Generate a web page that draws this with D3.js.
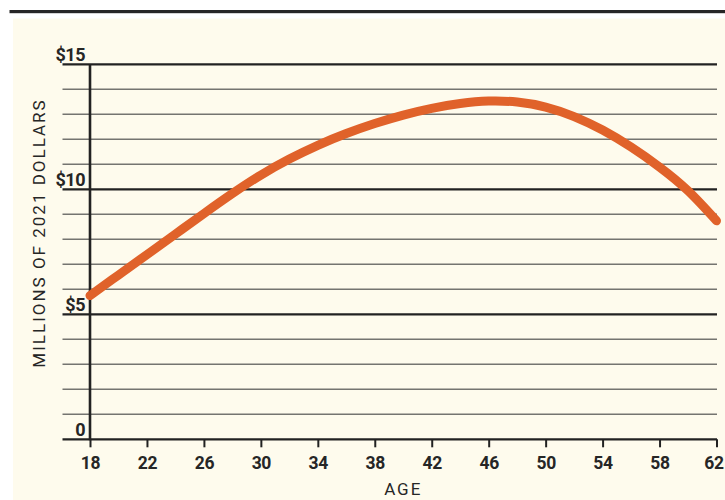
<!DOCTYPE html>
<html>
<head>
<meta charset="utf-8">
<script src="https://cdn.jsdelivr.net/npm/d3@7"></script>
<style>
  html, body { margin: 0; padding: 0; background: #ffffff; }
  svg { display: block; }
</style>
</head>
<body>
<svg id="chart" width="725" height="500"></svg>
<script>
// ---- Data ----
const ages = [18, 20, 22, 24, 26, 28, 30, 32, 34, 36, 38, 40, 42, 44, 46, 48, 50, 52, 54, 56, 58, 60, 62];
const earnings = [5.75, 6.57, 7.39, 8.21, 9.03, 9.83, 10.57, 11.21, 11.76, 12.23, 12.63, 12.97, 13.24, 13.43, 13.53, 13.49, 13.29, 12.91, 12.37, 11.69, 10.89, 9.94, 8.74];
const xTicks = [18, 22, 26, 30, 34, 38, 42, 46, 50, 54, 58, 62];
const yMajorTicks = [0, 5, 10, 15];
const yMajorLabels = ["0", "$5", "$10", "$15"];
const yMinorTicks = [1, 2, 3, 4, 6, 7, 8, 9, 11, 12, 13, 14];
const xTitle = "AGE";
const yTitle = "MILLIONS OF 2021 DOLLARS";

// ---- Layout ----
const svg = d3.select("#chart");
const mLeft = 90, mRight = 716.5, mTop = 64.3, mBottom = 439.3;
const gridLeft = 62.5, gridRight = 717;

svg.append("rect").attr("x", 13).attr("y", 18.5).attr("width", 712).attr("height", 482).attr("fill", "#fefbed");
svg.append("rect").attr("x", 9.5).attr("y", 10).attr("width", 716).attr("height", 3.2).attr("fill", "#262626");

const x = d3.scaleLinear().domain([18, 62]).range([mLeft, mRight]);
const y = d3.scaleLinear().domain([0, 15]).range([mBottom, mTop]);

// minor gridlines
svg.append("g").selectAll("line").data(yMinorTicks).join("line")
  .attr("x1", gridLeft).attr("x2", gridRight)
  .attr("y1", d => y(d)).attr("y2", d => y(d))
  .attr("stroke", "#747470").attr("stroke-width", 1.6);

// major gridlines
svg.append("g").selectAll("line").data(yMajorTicks).join("line")
  .attr("x1", gridLeft).attr("x2", gridRight)
  .attr("y1", d => y(d)).attr("y2", d => y(d))
  .attr("stroke", "#222222").attr("stroke-width", 2.2);

// y axis line
svg.append("line").attr("x1", mLeft).attr("x2", mLeft).attr("y1", mTop).attr("y2", mBottom + 1)
  .attr("stroke", "#222222").attr("stroke-width", 2.6);

// x axis ticks and labels
const xAxis = d3.axisBottom(x).tickValues(xTicks).tickSize(8).tickPadding(5).tickFormat(d3.format("d"));
const gx = svg.append("g").attr("transform", `translate(0,${mBottom})`).call(xAxis);
gx.select(".domain").remove();
gx.selectAll(".tick line").attr("stroke", "#222").attr("stroke-width", 2);
gx.selectAll(".tick text")
  .attr("font-family", "Roboto, 'DejaVu Sans', sans-serif")
  .attr("font-weight", 700).attr("font-size", 17.5).attr("letter-spacing", -0.3).attr("fill", "#262626")
  .attr("dy", "0.95em")
  .attr("dx", d => d === 62 ? -3 : 0);

// y labels
svg.append("g").selectAll("text").data(yMajorTicks).join("text")
  .attr("x", 85).attr("y", d => y(d) - 3.5)
  .attr("text-anchor", "end")
  .attr("font-family", "Roboto, 'DejaVu Sans', sans-serif")
  .attr("font-weight", 700).attr("font-size", 18).attr("letter-spacing", -0.5)
  .attr("fill", "#262626")
  .text((d, i) => yMajorLabels[i]);

// titles
svg.append("text").attr("x", (mLeft + mRight) / 2).attr("y", 495)
  .attr("text-anchor", "middle")
  .attr("font-family", "Roboto, 'DejaVu Sans', sans-serif")
  .attr("font-size", 17).attr("letter-spacing", 2).attr("fill", "#262626")
  .text(xTitle);

svg.append("text").attr("transform", "translate(45,233) rotate(-90)")
  .attr("text-anchor", "middle")
  .attr("font-family", "Roboto, 'DejaVu Sans', sans-serif")
  .attr("font-size", 17).attr("letter-spacing", 2).attr("fill", "#262626")
  .text(yTitle);

// curve
const line = d3.line().x((d, i) => x(ages[i])).y(d => y(d)).curve(d3.curveNatural);
svg.append("path").datum(earnings)
  .attr("d", line)
  .attr("fill", "none")
  .attr("stroke", "#e0622a")
  .attr("stroke-width", 9)
  .attr("stroke-linecap", "round")
  .attr("stroke-linejoin", "round");
</script>
</body>
</html>
